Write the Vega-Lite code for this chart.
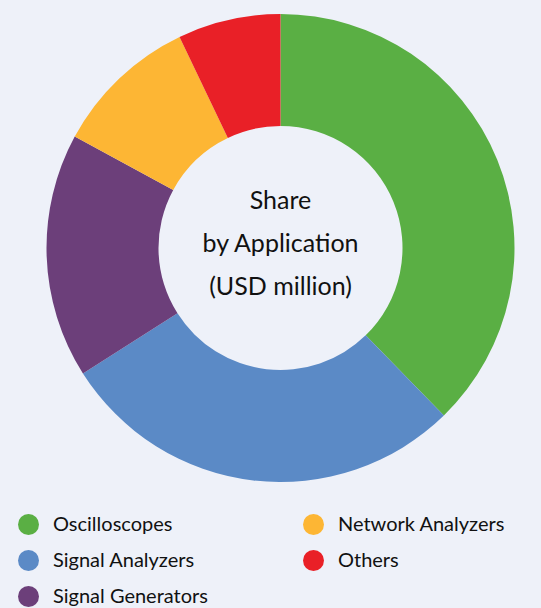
{
  "$schema": "https://vega.github.io/schema/vega-lite/v6.json",
  "autosize": "none",
  "padding": {"left": 20, "top": 0, "right": 0, "bottom": 112},
  "width": 521,
  "height": 496,
  "background": "#eef1f9",
  "config": {"view": {"stroke": null}},
  "datasets": {
    "shares": [
      {"application": "Oscilloscopes", "share": 37.7, "rank": 1},
      {"application": "Signal Analyzers", "share": 28.3, "rank": 2},
      {"application": "Signal Generators", "share": 16.9, "rank": 3},
      {"application": "Network Analyzers", "share": 10.0, "rank": 4},
      {"application": "Others", "share": 7.1, "rank": 5}
    ],
    "center": [{"title": ["Share", "by Application", "(USD million)"]}]
  },
  "layer": [
    {
      "data": {"name": "shares"},
      "mark": {"type": "arc", "outerRadius": 234, "innerRadius": 122},
      "encoding": {
        "theta": {"field": "share", "type": "quantitative", "stack": true},
        "order": {"field": "rank", "type": "quantitative"},
        "color": {
          "field": "application",
          "type": "nominal",
          "scale": {
            "domain": ["Oscilloscopes", "Signal Analyzers", "Signal Generators", "Network Analyzers", "Others"],
            "range": ["#5aaf44", "#5b8ac6", "#6c3f7a", "#fdb634", "#e92027"]
          },
          "legend": {
            "title": null,
            "orient": "none",
            "legendX": -2,
            "legendY": 514,
            "columns": 2,
            "columnPadding": 95,
            "rowPadding": 15,
            "symbolType": "circle",
            "symbolSize": 440,
            "symbolStrokeWidth": 0,
            "labelFont": "Lato",
            "labelFontSize": 20,
            "labelColor": "#111111",
            "labelOffset": 14,
            "labelLimit": 300
          }
        }
      }
    },
    {
      "data": {"name": "center"},
      "mark": {"type": "text", "font": "Lato", "fontSize": 25, "lineHeight": 43, "baseline": "middle", "align": "center", "dy": -47, "color": "#111111"},
      "encoding": {"text": {"field": "title", "type": "nominal"}}
    }
  ]
}
